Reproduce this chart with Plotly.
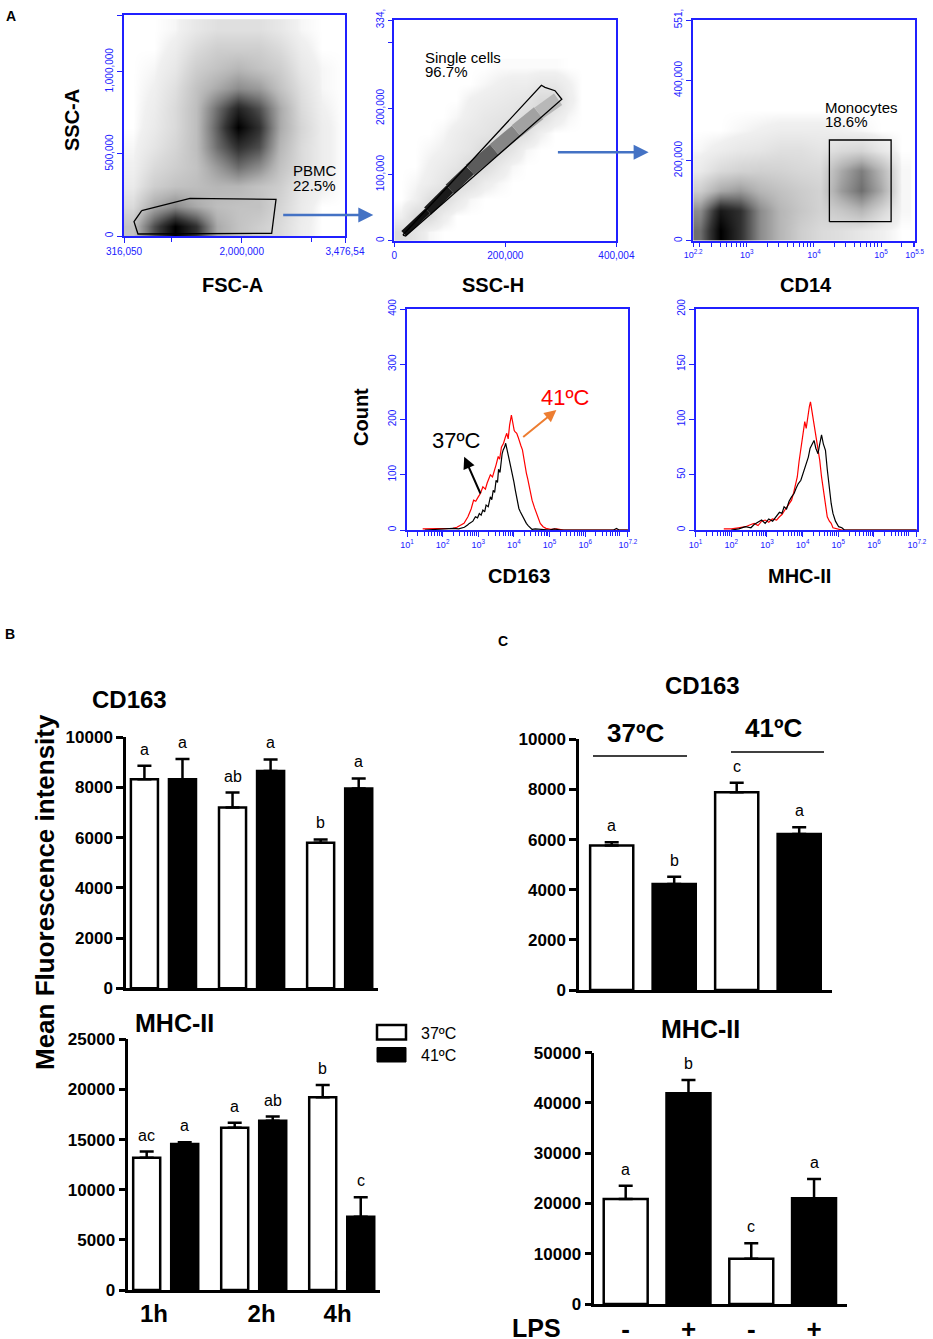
import numpy as np
import plotly.graph_objects as go

W, H = 933, 1339
FONT = 'Liberation Sans'
BLUE = '#2020ff'

# ---------------- panel A : gating plots (grey level, 0 = empty) ----------------
fsc_grid = [450000, 750000, 1050000, 1350000, 1650000, 1950000, 2250000, 2550000, 2850000, 3150000, 3450000]
ssc_grid = [60000, 180000, 300000, 420000, 540000, 660000, 780000, 900000, 1020000, 1140000, 1260000]
pbmc_density = [
    [2, 6, 9, 7, 3, 2, 1.5, 1, 0.3, 0, 0],
    [1, 3, 4, 3, 2.2, 2, 2, 1.2, 0.4, 0, 0],
    [0.4, 1.5, 2, 2.2, 2.5, 2.5, 2, 1.5, 0.5, 0.2, 0],
    [0.2, 1, 1.5, 2, 3.5, 5, 4, 2, 1, 0.3, 0],
    [0.1, 0.6, 1.2, 2.2, 5, 7, 6, 2.5, 1, 0.3, 0],
    [0, 0.4, 1, 2.2, 5.5, 9, 7, 3, 1.2, 0.3, 0],
    [0, 0.3, 1, 2.2, 5, 7.5, 6, 3, 1, 0.2, 0],
    [0, 0.2, 0.8, 2, 3, 4, 3.5, 2, 0.8, 0.1, 0],
    [0, 0.1, 0.5, 1.5, 2, 2.5, 2, 1.5, 0.5, 0.1, 0],
    [0, 0, 0.3, 1, 1.5, 1.5, 1.5, 1, 0.3, 0, 0],
    [0, 0, 0.1, 0.5, 0.8, 0.8, 0.8, 0.5, 0.1, 0, 0],
]
pbmc_gate_x = [569000, 1260000, 2490000, 2428000, 516000, 459000, 569000]
pbmc_gate_y = [154000, 229600, 223500, 16400, 12200, 87100, 154000]

ssch_grid = [12500, 37500, 62500, 87500, 112500, 137500, 162500, 187500,
             212500, 237500, 262500, 287500, 312500, 337500, 362500, 387500]
ssca_grid = [12500, 37500, 62500, 87500, 112500, 137500, 162500, 187500, 212500, 237500, 262500]
singlet_density = [
    [1, 0.6, 0.1, 0, 0, 0, 0, 0, 0, 0, 0, 0, 0, 0, 0, 0],
    [0.2, 1, 1, 0.3, 0, 0, 0, 0, 0, 0, 0, 0, 0, 0, 0, 0],
    [0, 0.2, 0.8, 1, 0.5, 0.1, 0, 0, 0, 0, 0, 0, 0, 0, 0, 0],
    [0, 0.1, 0.3, 0.6, 1, 0.8, 0.3, 0.1, 0, 0, 0, 0, 0, 0, 0, 0],
    [0, 0, 0.2, 0.4, 0.6, 1, 1, 0.5, 0.1, 0, 0, 0, 0, 0, 0, 0],
    [0, 0, 0.1, 0.2, 0.4, 0.6, 1, 1, 0.6, 0.1, 0, 0, 0, 0, 0, 0],
    [0, 0, 0, 0.1, 0.3, 0.5, 0.6, 0.8, 1, 0.8, 0.2, 0, 0, 0, 0, 0],
    [0, 0, 0, 0, 0.1, 0.3, 0.5, 0.6, 0.7, 1, 1, 0.4, 0.1, 0, 0, 0],
    [0, 0, 0, 0, 0, 0.2, 0.3, 0.4, 0.5, 0.6, 1, 1, 0.3, 0, 0, 0],
    [0, 0, 0, 0, 0, 0, 0.1, 0.2, 0.3, 0.3, 0.5, 0.5, 0.2, 0, 0, 0],
    [0, 0, 0, 0, 0, 0, 0, 0.05, 0.05, 0.05, 0.05, 0.05, 0, 0, 0, 0],
]
# dense diagonal of the singlet plot: points along it, with band width (px) and grey of each stretch
singlet_ridge_x = [17000, 60000, 100000, 136000, 180000, 220000, 260000, 295000]
singlet_ridge_y = [11000, 45000, 78000, 107000, 138000, 166000, 193000, 214000]
singlet_ridge_width = [7, 10, 12, 13, 14, 15, 14]
singlet_ridge_grey = ['#111111', '#1a1a1a', '#333333', '#5c5c5c', '#868686', '#a2a2a2', '#b8b8b8']
singlet_gate_x = [15500, 264900, 271400, 289400, 301700, 20500, 15500]
singlet_gate_y = [8600, 235200, 232100, 227000, 214000, 7100, 8600]

cd14_grid = [2.3, 2.6, 2.9, 3.2, 3.5, 3.8, 4.1, 4.4, 4.7, 5.0, 5.3]   # log10
cd14_ssc_grid = [25000, 75000, 125000, 175000, 225000, 275000, 325000]
cd14_density = [
    [5, 9, 7, 4, 2.5, 1.5, 1, 0.8, 0.5, 0.2, 0],
    [4, 8, 7, 4, 2.5, 1.8, 1.3, 1.8, 2.5, 1.2, 0.1],
    [1.5, 3, 3.5, 2.5, 2, 1.6, 1.3, 3.5, 5, 3, 0.1],
    [0.4, 1, 1.3, 1.4, 1.3, 1.1, 1, 3, 4.5, 2.5, 0.1],
    [0.1, 0.3, 0.5, 0.6, 0.8, 0.8, 0.6, 1, 1.2, 0.5, 0],
    [0, 0, 0.1, 0.2, 0.3, 0.3, 0.3, 0.2, 0.1, 0, 0],
    [0, 0, 0, 0, 0, 0, 0, 0, 0, 0, 0],
]
mono_gate_x = [4.23, 5.15, 5.15, 4.23, 4.23]
mono_gate_y = [47400, 47400, 251400, 251400, 47400]

# histograms (x in log10 units)
cd163_37_log = [1.5, 2.08, 2.3, 2.45, 2.61, 2.7, 2.75, 2.85, 2.92, 2.98, 3.03, 3.08, 3.13, 3.18, 3.22,
                3.28, 3.34, 3.38, 3.42, 3.46, 3.5, 3.54, 3.57, 3.61, 3.64, 3.67, 3.7, 3.74, 3.77, 3.8,
                3.82, 3.85, 3.87, 3.9, 3.93, 3.97, 4.0, 4.04, 4.07, 4.1, 4.14, 4.18, 4.22, 4.26, 4.29,
                4.35, 4.4, 4.45, 4.51, 4.6, 4.8, 5.0, 5.14, 5.3, 6.8, 6.88, 6.95, 7.2]
cd163_37_count = [0, 2, 3, 2, 5, 9, 12, 16, 24, 22, 30, 27, 36, 33, 45,
                  42, 60, 55, 72, 68, 90, 86, 110, 104, 127, 138, 145, 150, 157, 146,
                  140, 132, 127, 118, 110, 96, 87, 72, 60, 52, 39, 33, 28, 22, 18,
                  12, 8, 5, 1, 2, 1, 0, 2, 0, 0, 3, 0, 0]
cd163_41_log = [1.44, 1.8, 2.1, 2.29, 2.4, 2.5, 2.6, 2.71, 2.8, 2.87, 2.93, 3.0, 3.06, 3.13, 3.2,
                3.25, 3.3, 3.34, 3.4, 3.45, 3.5, 3.56, 3.6, 3.65, 3.71, 3.76, 3.8, 3.84, 3.88, 3.93,
                3.96, 3.98, 4.01, 4.03, 4.08, 4.12, 4.15, 4.2, 4.24, 4.3, 4.35, 4.39, 4.43, 4.47, 4.51,
                4.58, 4.62, 4.66, 4.74, 4.82, 4.9, 5.03, 5.2, 5.4, 7.2]
cd163_41_count = [2, 2, 2, 3, 5, 8, 12, 24, 38, 54, 52, 60, 66, 78, 74,
                  85, 92, 100, 96, 105, 118, 133, 128, 150, 157, 168, 175, 165, 190, 208,
                  195, 185, 180, 178, 175, 168, 160, 152, 145, 120, 103, 92, 80, 66, 54,
                  40, 32, 24, 12, 6, 3, 1, 2, 0, 0]
mhc_37_log = [2.0, 2.21, 2.4, 2.55, 2.64, 2.75, 2.85, 2.95, 3.05, 3.16, 3.25, 3.35, 3.42, 3.48, 3.55,
              3.62, 3.69, 3.76, 3.82, 3.88, 3.95, 4.0, 4.05, 4.1, 4.16, 4.21, 4.26, 4.32, 4.37, 4.43,
              4.48, 4.53, 4.58, 4.64, 4.69, 4.74, 4.8, 4.85, 4.92, 5.01, 5.1, 5.17, 7.2]
mhc_37_count = [0, 1, 3, 2, 5, 7, 9, 6, 10, 8, 12, 16, 15, 21, 19,
                26, 30, 33, 38, 42, 45, 50, 56, 60, 66, 74, 78, 81, 74, 69,
                78, 86, 78, 72, 55, 39, 24, 15, 8, 3, 2, 0, 0]
mhc_41_log = [1.79, 2.0, 2.2, 2.4, 2.55, 2.64, 2.75, 2.85, 2.95, 3.05, 3.15, 3.27, 3.35, 3.42, 3.48,
              3.55, 3.62, 3.69, 3.75, 3.8, 3.85, 3.9, 3.95, 4.01, 4.06, 4.1, 4.16, 4.19, 4.22, 4.26,
              4.3, 4.34, 4.4, 4.44, 4.48, 4.53, 4.59, 4.64, 4.69, 4.75, 4.8, 4.85, 4.95, 5.1, 7.2]
mhc_41_count = [1, 1, 2, 3, 5, 6, 4, 8, 9, 7, 10, 9, 12, 14, 17,
                20, 24, 27, 34, 40, 48, 62, 75, 87, 98, 92, 109, 112, 116, 108,
                100, 94, 78, 70, 63, 48, 33, 22, 12, 8, 6, 2, 1, 0, 0]

# ---------------- panel B : time course ----------------
hours = ['1h', '2h', '4h']
cd163_time_37 = [8330, 7200, 5800]
cd163_time_37_err = [540, 600, 130]
cd163_time_41 = [8330, 8660, 7960]
cd163_time_41_err = [810, 460, 400]
cd163_time_37_letters = ['a', 'ab', 'b']
cd163_time_41_letters = ['a', 'a', 'a']
mhc_time_37 = [13200, 16190, 19220]
mhc_time_37_err = [600, 500, 1230]
mhc_time_41 = [14560, 16890, 7310]
mhc_time_41_err = [170, 400, 1930]
mhc_time_37_letters = ['ac', 'a', 'b']
mhc_time_41_letters = ['a', 'ab', 'c']

# ---------------- panel C : LPS ----------------
lps = ['-', '+', '-', '+']
temps = ['37ºC', '41ºC']
lps_fill = ['white', 'black', 'white', 'black']
cd163_lps = [5760, 4230, 7890, 6220]
cd163_lps_err = [130, 290, 380, 270]
cd163_lps_letters = ['a', 'b', 'c', 'a']
mhc_lps = [20890, 41910, 9020, 21020]
mhc_lps_err = [2650, 2650, 3050, 3850]
mhc_lps_letters = ['a', 'b', 'c', 'a']


def xd(l, r):
    return [l / W, r / W]


def yd(t, b):
    return [1 - b / H, 1 - t / H]


def log_minors(lo, hi):
    return [d + np.log10(k) for d in range(int(lo), int(hi) + 1) for k in range(2, 10)
            if lo < d + np.log10(k) < hi]


def log_labels(vals):
    return ['10<sup>%g</sup>' % v for v in vals]


def flow_axis(dom, anchor, rng, vals, text, size=10, angle=0):
    return dict(domain=dom, anchor=anchor, range=rng, showline=True, mirror=True, linecolor=BLUE,
                linewidth=1.5, ticks='outside', ticklen=5, tickwidth=1.2, tickcolor=BLUE,
                tickvals=vals, ticktext=text, tickangle=angle, automargin=False,
                tickfont=dict(family=FONT, size=size, color=BLUE),
                showgrid=False, zeroline=False, fixedrange=True)


def minor_axis(base, anchor, rng, vals, side):
    # unlabelled ticks drawn on an axis laid over the main one
    return dict(overlaying=base, anchor=anchor, range=rng, side=side, tickvals=vals,
                showticklabels=False, ticks='outside', ticklen=5, tickwidth=1.2, tickcolor=BLUE,
                showline=False, showgrid=False, zeroline=False, automargin=False, fixedrange=True)


def bar_yaxis(dom, anchor, rng, dtick):
    return dict(domain=dom, anchor=anchor, range=rng, showline=True, linecolor='black', linewidth=2.5,
                ticks='outside', ticklen=7, tickwidth=2.5, tickcolor='black', dtick=dtick,
                tickformat='d', automargin=False,
                tickfont=dict(family=FONT, size=17, color='black', weight='bold'),
                showgrid=False, zeroline=False, fixedrange=True)


def bar_xaxis(dom, anchor, rng, vals=None, text=None, size=24):
    d = dict(domain=dom, anchor=anchor, range=rng, showline=True, linecolor='black', linewidth=2.5,
             ticks='', showgrid=False, zeroline=False, fixedrange=True, automargin=False)
    if vals is None:
        d['showticklabels'] = False
    else:
        d.update(tickvals=vals, ticktext=text, ticklabelstandoff=0,
                 tickfont=dict(family=FONT, size=size, color='black', weight='bold'))
    return d


grey = [[0, '#ffffff'], [0.02, '#f0f0f0'], [0.12, '#d8d8d8'], [0.3, '#b2b2b2'],
        [0.5, '#7e7e7e'], [0.75, '#363636'], [1, '#000000']]

fig = go.Figure()

# density maps + gates
for z, gx_, gy_, ax in [(pbmc_density, fsc_grid, ssc_grid, ''),
                        (singlet_density, ssch_grid, ssca_grid, '2'),
                        (cd14_density, cd14_grid, cd14_ssc_grid, '3')]:
    fig.add_trace(go.Heatmap(z=z, x=gx_, y=gy_, colorscale=grey, zmin=0, zmax=9, zsmooth='best',
                             showscale=False, hoverinfo='skip', xaxis='x' + ax, yaxis='y' + ax))
for i in range(len(singlet_ridge_width)):
    fig.add_trace(go.Scatter(x=singlet_ridge_x[i:i + 2], y=singlet_ridge_y[i:i + 2], mode='lines',
                             line=dict(color=singlet_ridge_grey[i], width=singlet_ridge_width[i]),
                             hoverinfo='skip', xaxis='x2', yaxis='y2'))
for gxs, gys, ax in [(pbmc_gate_x, pbmc_gate_y, ''), (singlet_gate_x, singlet_gate_y, '2'),
                     (mono_gate_x, mono_gate_y, '3')]:
    fig.add_trace(go.Scatter(x=gxs, y=gys, mode='lines', line=dict(color='black', width=1.3),
                             hoverinfo='skip', xaxis='x' + ax, yaxis='y' + ax))

# histograms
for xs, ys, col, ax in [(cd163_41_log, cd163_41_count, '#ff0000', '4'),
                        (cd163_37_log, cd163_37_count, 'black', '4'),
                        (mhc_41_log, mhc_41_count, '#ff0000', '5'),
                        (mhc_37_log, mhc_37_count, 'black', '5')]:
    fig.add_trace(go.Scatter(x=xs, y=ys, mode='lines', line=dict(color=col, width=1.2),
                             hoverinfo='skip', xaxis='x' + ax, yaxis='y' + ax))

# empty traces so the minor-tick axes get drawn
for xa, ya in [('x10', 'y'), ('x11', 'y3'), ('x12', 'y4'), ('x13', 'y5'), ('x2', 'y10')]:
    fig.add_trace(go.Scatter(x=[], y=[], xaxis=xa, yaxis=ya, hoverinfo='skip'))

# bars, panel B
gpos = np.arange(len(hours))
err_style = dict(type='data', symmetric=False, color='black', thickness=2.5, width=7)
for means, errs, fill, shift, ax in [
        (cd163_time_37, cd163_time_37_err, 'white', -0.216, '6'),
        (cd163_time_41, cd163_time_41_err, 'black', 0.216, '6'),
        (mhc_time_37, mhc_time_37_err, 'white', -0.216, '7'),
        (mhc_time_41, mhc_time_41_err, 'black', 0.216, '7')]:
    fig.add_trace(go.Bar(x=gpos + shift, y=means, width=0.307,
                         marker=dict(color=fill, line=dict(color='black', width=2.5)),
                         error_y=dict(err_style, array=errs, arrayminus=[0] * len(errs)),
                         hoverinfo='skip', xaxis='x' + ax, yaxis='y' + ax))

# bars, panel C
cpos = np.arange(len(lps))
for means, errs, ax, wd in [(cd163_lps, cd163_lps_err, '8', 0.69), (mhc_lps, mhc_lps_err, '9', 0.70)]:
    fig.add_trace(go.Bar(x=cpos, y=means, width=wd,
                         marker=dict(color=lps_fill, line=dict(color='black', width=2.5)),
                         error_y=dict(err_style, array=errs, arrayminus=[0] * len(errs)),
                         hoverinfo='skip', xaxis='x' + ax, yaxis='y' + ax))

cd14_major = [2.2, 3, 4, 5, 5.5]
hist_major = [1, 2, 3, 4, 5, 6, 7.2]

layout = dict(
    xaxis=flow_axis(xd(124, 345), 'y', [316050, 3476540], [316050, 2e6, 3476540],
                    ['316,050', '2,000,000', '3,476,54']),
    xaxis10=minor_axis('x', 'y', [316050, 3476540], [1e6, 3e6], 'bottom'),
    yaxis=flow_axis(yd(15, 236), 'x', [0, 1346000], [0, 500000, 1000000, 1346000],
                    ['0', '500,000', '1,000,000', '1,346,'], angle=-90),
    xaxis2=flow_axis(xd(394.3, 616.4), 'y2', [0, 400004], [0, 200000, 400004], ['0', '200,000', '400,004']),
    yaxis2=flow_axis(yd(20, 240.7), 'x2', [0, 334000], [0, 100000, 200000, 334000],
                     ['0', '100,000', '200,000', '334,'], angle=-90),
    yaxis10=minor_axis('y2', 'x2', [0, 334000], [300000], 'left'),
    xaxis3=flow_axis(xd(693.2, 914.6), 'y3', [2.2, 5.5], cd14_major, log_labels(cd14_major), size=9),
    xaxis11=minor_axis('x3', 'y3', [2.2, 5.5], log_minors(2.2, 5.5), 'bottom'),
    yaxis3=flow_axis(yd(20, 240.7), 'x3', [0, 551000], [0, 200000, 400000, 551000],
                     ['0', '200,000', '400,000', '551,'], angle=-90),
    xaxis4=flow_axis(xd(407, 627.9), 'y4', [1, 7.2], hist_major, log_labels(hist_major), size=9),
    xaxis12=minor_axis('x4', 'y4', [1, 7.2], log_minors(1, 7.2), 'bottom'),
    yaxis4=flow_axis(yd(309, 530), 'x4', [0, 400], [0, 100, 200, 300, 400],
                     ['0', '100', '200', '300', '400'], angle=-90),
    xaxis5=flow_axis(xd(695.6, 916.8), 'y5', [1, 7.2], hist_major, log_labels(hist_major), size=9),
    xaxis13=minor_axis('x5', 'y5', [1, 7.2], log_minors(1, 7.2), 'bottom'),
    yaxis5=flow_axis(yd(309, 530), 'x5', [0, 200], [0, 50, 100, 150, 200],
                     ['0', '50', '100', '150', '200'], angle=-90),
    xaxis6=bar_xaxis(xd(126, 378), 'y6', [-0.425, 2.435]),
    yaxis6=bar_yaxis(yd(737.3, 988.3), 'x6', [0, 10000], 2000),
    xaxis7=bar_xaxis(xd(128.3, 380), 'y7', [-0.425, 2.435], [-0.134, 1.089, 1.953], hours),
    yaxis7=bar_yaxis(yd(1039.3, 1290), 'x7', [0, 25000], 5000),
    xaxis8=bar_xaxis(xd(579, 831.7), 'y8', [-0.523, 3.52]),
    yaxis8=bar_yaxis(yd(739.3, 990), 'x8', [0, 10000], 2000),
    xaxis9=bar_xaxis(xd(594.3, 846.7), 'y9', [-0.50, 3.52], list(cpos), lps, size=26),
    yaxis9=bar_yaxis(yd(1052.7, 1304), 'x9', [0, 50000], 10000),
)

ann = []


def note(text, x, y, size, bold=True, color='black', xanchor='center', yanchor='middle', angle=0):
    ann.append(dict(text='<b>%s</b>' % text if bold else text, x=x / W, y=1 - y / H, xref='paper',
                    yref='paper', showarrow=False, xanchor=xanchor, yanchor=yanchor, textangle=angle,
                    font=dict(family=FONT, size=size, color=color)))


def arrow(x0, y0, x1, y1, color, width):
    ann.append(dict(text='', x=x1 / W, y=1 - y1 / H, xref='paper', yref='paper', showarrow=True,
                    ax=x0 - x1, ay=y0 - y1, axref='pixel', ayref='pixel', arrowhead=2,
                    arrowsize=1.2, arrowwidth=width, arrowcolor=color, standoff=0))


# panel letters
note('A', 11, 16, 14)
note('B', 10, 634, 14)
note('C', 503, 641, 14)

# panel A texts
note('FSC-A', 232, 285, 20)
note('SSC-H', 493, 285, 20)
note('CD14', 806, 285, 20)
note('SSC-A', 72, 120, 20, angle=-90)
note('CD163', 519, 576, 20)
note('MHC-II', 799, 576, 20)
note('Count', 361, 417, 20, angle=-90)
for txt, x, y in [('PBMC', 291, 171), ('22.5%', 291, 185),
                  ('Single cells', 423, 58), ('96.7%', 423, 72),
                  ('Monocytes', 823, 107), ('18.6%', 823, 121)]:
    note(txt, x, y, 15, bold=False, xanchor='left')
arrow(281.7, 215, 373.3, 215, '#4472c4', 2.5)
arrow(556.4, 152.3, 648.6, 152.3, '#4472c4', 2.5)
note('37ºC', 456, 440, 22, bold=False)
note('41ºC', 565, 397, 22, bold=False, color='#ff0000')
arrow(481.1, 495, 464.2, 456.7, 'black', 2)
arrow(521.7, 438.3, 556.4, 410, '#ed7d31', 2)

# panel B texts
note('CD163', 129, 699, 24)
note('MHC-II', 174, 1023, 25)
note('Mean Fluorescence intensity', 45, 892, 26, angle=-90)
note('37ºC', 419, 1033, 16, bold=False, xanchor='left')
note('41ºC', 419, 1055, 16, bold=False, xanchor='left')

# panel C texts
note('CD163', 702, 685, 24)
note('37ºC', 635, 733, 26)
note('41ºC', 773, 728, 26)
note('MHC-II', 700, 1029, 25)
note('LPS', 536, 1328, 25)

# significance letters
for xs, means, errs, labs, ax in [
        (gpos - 0.216, cd163_time_37, cd163_time_37_err, cd163_time_37_letters, '6'),
        (gpos + 0.216, cd163_time_41, cd163_time_41_err, cd163_time_41_letters, '6'),
        (gpos - 0.216, mhc_time_37, mhc_time_37_err, mhc_time_37_letters, '7'),
        (gpos + 0.216, mhc_time_41, mhc_time_41_err, mhc_time_41_letters, '7'),
        (cpos, cd163_lps, cd163_lps_err, cd163_lps_letters, '8'),
        (cpos, mhc_lps, mhc_lps_err, mhc_lps_letters, '9')]:
    for x, m, e, lab in zip(xs, means, errs, labs):
        ann.append(dict(text=lab, x=x, y=m + e, xref='x' + ax, yref='y' + ax, yanchor='bottom',
                        yshift=6, showarrow=False, font=dict(family=FONT, size=16, color='black')))

shapes = [
    dict(type='rect', xref='paper', yref='paper', x0=377 / W, x1=406 / W, y0=1 - 1039.5 / H,
         y1=1 - 1025 / H, line=dict(color='black', width=2.5), fillcolor='white'),
    dict(type='rect', xref='paper', yref='paper', x0=377 / W, x1=406 / W, y0=1 - 1062 / H,
         y1=1 - 1047.5 / H, line=dict(color='black', width=1), fillcolor='black'),
    dict(type='line', xref='paper', yref='paper', x0=593 / W, x1=687 / W, y0=1 - 756 / H,
         y1=1 - 756 / H, line=dict(color='black', width=1.5)),
    dict(type='line', xref='paper', yref='paper', x0=731 / W, x1=824 / W, y0=1 - 752 / H,
         y1=1 - 752 / H, line=dict(color='black', width=1.5)),
]

fig.update_layout(**layout)
fig.update_layout(width=W, height=H, margin=dict(l=0, r=0, t=0, b=0, autoexpand=False),
                  paper_bgcolor='white', plot_bgcolor='white', showlegend=False, barmode='overlay',
                  annotations=ann, shapes=shapes, font=dict(family=FONT, color='black'))

# the page's default 8px body margin would push the figure off the window
fig.write_html('out.html', config={'displayModeBar': False},
               post_script="document.body.style.margin='0';")
